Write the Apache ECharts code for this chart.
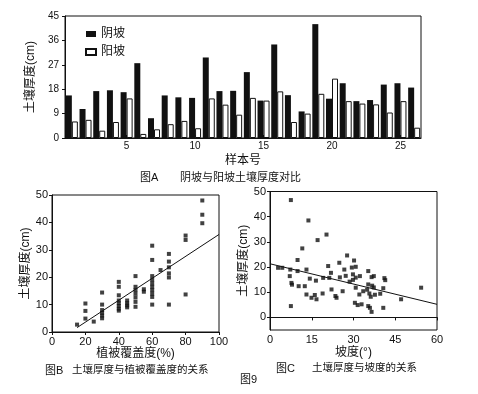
<!DOCTYPE html>
<html><head><meta charset="utf-8">
<script src="https://cdn.jsdelivr.net/npm/echarts@6/dist/echarts.min.js"></script>
<style>html,body{margin:0;padding:0;background:#fff}#c{width:478px;height:394px}</style>
</head><body><div id="c"></div>
<script>
// Panel A: soil thickness (cm), shady vs sunny slopes, 26 samples
const samples = ['1','2','3','4','5','6','7','8','9','10','11','12','13','14','15','16','17','18','19','20','21','22','23','24','25','26'];
const shadyThick = [15.7,10.7,17.3,17.6,16.9,27.6,7.3,15.7,15.0,14.8,29.7,17.3,17.4,24.3,13.8,34.5,15.8,9.8,42.0,14.5,20.2,13.6,14.0,19.7,20.2,18.6];
const sunnyThick = [6.1,6.7,2.7,5.9,14.6,1.5,3.2,5.1,6.3,3.6,14.6,12.3,8.6,14.8,13.8,17.2,5.9,9.0,16.3,21.9,13.6,12.7,12.4,9.4,13.6,3.8];
const ticksA = [0,9,18,27,36,45];

// Panel B: soil thickness vs vegetation coverage
const coverB = [15,20,20,20,25,30,30,30,30,30,30,40,40,40,40,40,40,40,40,45,45,45,45,50,50,50,50,50,50,50,55,55,60,60,60,60,60,60,60,60,60,60,65,70,70,70,70,70,70,80,80,80,90,90,90];
const thickB = [2.7,10.4,7.7,4.9,3.8,14.4,10.0,8.0,7.0,6.0,5.0,18.3,16.5,13.4,11.5,10.5,9.5,8.5,7.8,11.5,10.5,9.7,9.0,20.4,16.5,15.3,14.0,12.6,11.0,9.2,15.6,14.7,31.5,26.3,20.4,19.0,17.7,16.5,15.3,14.0,12.8,10.0,22.6,28.5,25.7,23.6,21.4,19.9,10.0,35.2,33.6,13.7,48.0,42.8,39.7];
const trendBx = [15,100];
const trendBy = [1.6,35.6];

// Panel C: soil thickness vs slope
const slopeC = [7.5,13.8,20.3,17.1,11.6,9.9,2.9,4.4,7.3,9.9,7.1,7.7,7.9,10.3,12.5,13.1,14.3,16.5,13.1,14.9,16.1,16.7,18.9,20.9,21.9,21.3,19.1,23.9,23.5,22.1,24.9,25.1,26.1,27.7,26.7,27.2,29.4,30.2,30.8,29.8,30.8,29.8,28.6,30.8,32.3,30.5,31.5,32.9,32.1,33.5,35.3,35.3,36.5,37.3,36.7,37.3,35.7,36.2,35.3,35.9,36.5,37.7,39.6,40.7,41.1,41.4,40.7,47.1,54.3,34.9,7.5];
const thickC = [46.6,38.5,32.9,30.7,27.4,22.8,19.7,19.7,19.0,18.4,16.4,13.7,13.0,12.4,12.4,19.0,15.4,14.6,9.1,7.8,8.9,7.2,9.5,20.4,17.7,15.7,15.7,7.8,8.5,11.1,21.7,15.9,10.4,24.6,19.0,16.5,19.8,22.6,20.1,17.1,15.8,14.9,14.2,11.8,16.4,5.8,4.9,5.2,9.1,10.4,18.4,13.1,16.0,16.4,12.6,11.9,9.5,8.2,4.5,3.8,2.2,9.0,9.4,11.6,15.6,14.8,3.8,7.2,11.8,11.0,4.5];
const trendCx = [0,60];
const trendCy = [21.3,5.2];
const ticksCy = [0,10,20,30,40,50];

const FF = "'Liberation Sans','Noto Sans CJK SC',sans-serif";
const INK = '#111';
const zip = (a,b)=>a.map((v,i)=>[v,b[i]]);

const axisCommon = {
  axisLine:{show:true,lineStyle:{color:INK,width:1}},
  axisTick:{show:true,length:3,lineStyle:{color:INK}},
  axisLabel:{color:INK,fontFamily:FF,fontSize:11,margin:4},
  splitLine:{show:false},
  nameTextStyle:{color:INK,fontFamily:FF,fontSize:12}
};
function ax(o){return Object.assign({},JSON.parse(JSON.stringify(axisCommon)),o);}

const chart = echarts.init(document.getElementById('c'),null,{renderer:'canvas'});
chart.setOption({
  animation:false,
  backgroundColor:'#fff',
  textStyle:{fontFamily:FF},
  grid:[
    {left:65,top:16,width:356,height:122,show:true,borderColor:INK,borderWidth:1,backgroundColor:'transparent'},
    {left:52,top:195,width:167,height:137,show:true,borderColor:INK,borderWidth:1,backgroundColor:'transparent'},
    {left:270,top:191.5,width:167,height:138.5,show:true,borderColor:INK,borderWidth:1,backgroundColor:'transparent'}
  ],
  legend:{
    data:['阴坡','阳坡'],orient:'vertical',left:80,top:23,itemWidth:10,itemHeight:6,itemGap:6,
    icon:'rect',textStyle:{color:INK,fontFamily:FF,fontSize:12}
  },
  xAxis:[
    ax({gridIndex:0,type:'category',data:samples,boundaryGap:true,
      name:'样本号',nameLocation:'middle',nameGap:17,
      axisLabel:{color:INK,fontFamily:FF,fontSize:10,margin:3,interval:(i)=>(i+1)%5===0},
      axisTick:{show:true,length:3,inside:true,alignWithLabel:true,interval:(i)=>(i+1)%5===0,lineStyle:{color:INK}}}),
    ax({gridIndex:1,type:'value',min:0,max:100,interval:20,
      name:'植被覆盖度(%)',nameLocation:'middle',nameGap:16}),
    ax({gridIndex:2,type:'value',min:0,max:60,interval:15,
      name:'坡度(°)',nameLocation:'middle',nameGap:17})
  ],
  yAxis:[
    ax({gridIndex:0,type:'value',min:0,max:45,interval:9,
      name:'土壤厚度(cm)',nameLocation:'middle',nameGap:28,nameRotate:90,
      axisLabel:{color:INK,fontFamily:FF,fontSize:10,margin:6}}),
    ax({gridIndex:1,type:'value',min:0,max:50,interval:10,
      name:'土壤厚度(cm)',nameLocation:'middle',nameGap:20,nameRotate:90}),
    ax({gridIndex:2,type:'value',min:-5,max:50,
      name:'土壤厚度(cm)',nameLocation:'middle',nameGap:19,nameRotate:90,
      axisLabel:{color:INK,fontFamily:FF,fontSize:11,margin:4,customValues:ticksCy},
      axisTick:{show:true,length:3,customValues:ticksCy,lineStyle:{color:INK}}})
  ],
  series:[
    {name:'阴坡',type:'bar',xAxisIndex:0,yAxisIndex:0,data:shadyThick,barWidth:6,barGap:'0%',
      itemStyle:{color:INK,borderColor:INK,borderWidth:0}},
    {name:'阳坡',type:'bar',xAxisIndex:0,yAxisIndex:0,data:sunnyThick,barWidth:6,barGap:'0%',
      itemStyle:{color:'#fff',borderColor:INK,borderWidth:1}},
    {type:'scatter',xAxisIndex:1,yAxisIndex:1,data:zip(coverB,thickB),symbol:'rect',symbolSize:4,
      itemStyle:{color:INK}},
    {type:'line',xAxisIndex:1,yAxisIndex:1,data:zip(trendBx,trendBy),symbol:'none',
      lineStyle:{color:INK,width:1}},
    {type:'scatter',xAxisIndex:2,yAxisIndex:2,data:zip(slopeC,thickC),symbol:'rect',symbolSize:4,
      itemStyle:{color:INK}},
    {type:'line',xAxisIndex:2,yAxisIndex:2,data:zip(trendCx,trendCy),symbol:'none',
      lineStyle:{color:INK,width:1}}
  ],
  graphic:[
    {type:'text',left:140,top:172,style:{text:'图A',fill:INK,font:'11px '+FF}},
    {type:'text',left:180,top:172,style:{text:'阴坡与阳坡土壤厚度对比',fill:INK,font:'11px '+FF}},
    {type:'text',left:45,top:365,style:{text:'图B',fill:INK,font:'11px '+FF}},
    {type:'text',left:72,top:365,style:{text:'土壤厚度与植被覆盖度的关系',fill:INK,font:'10.5px '+FF}},
    {type:'text',left:276,top:363,style:{text:'图C',fill:INK,font:'11px '+FF}},
    {type:'text',left:312,top:363,style:{text:'土壤厚度与坡度的关系',fill:INK,font:'10.5px '+FF}},
    {type:'text',left:240,top:374,style:{text:'图9',fill:INK,font:'11px '+FF}}
  ]
});
</script></body></html>
